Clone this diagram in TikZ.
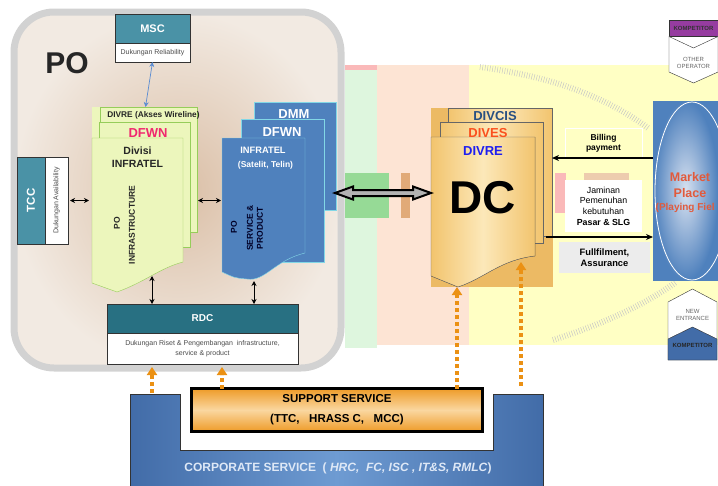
\documentclass[tikz,border=0pt]{standalone}
\usepackage{fontspec}
\setmainfont{Liberation Sans}
\usetikzlibrary{arrows.meta, positioning, calc}

\definecolor{tealbox}{RGB}{74,146,166}
\definecolor{tealdark}{RGB}{40,112,130}
\definecolor{infragreen}{RGB}{236,246,188}
\definecolor{infraedge}{RGB}{150,205,90}
\definecolor{svcblue}{RGB}{79,129,189}
\definecolor{svcedge}{RGB}{130,215,230}
\definecolor{dcorange}{RGB}{242,196,110}
\definecolor{dclight}{RGB}{252,232,185}
\definecolor{dcback}{RGB}{236,186,100}
\definecolor{mktred}{RGB}{225,90,60}
\definecolor{mktlight}{RGB}{215,225,240}
\definecolor{suporange}{RGB}{238,155,40}
\definecolor{suplight}{RGB}{250,215,160}
\definecolor{dotorange}{RGB}{235,145,20}
\definecolor{corpblue}{RGB}{66,108,168}
\definecolor{corplight}{RGB}{110,155,210}
\definecolor{corptext}{RGB}{222,232,246}
\definecolor{kompurple}{RGB}{150,60,160}
\definecolor{poback}{RGB}{242,234,226}
\definecolor{pocore}{RGB}{218,190,165}
\definecolor{bandpeach}{RGB}{253,228,212}
\definecolor{bandgreen}{RGB}{222,246,222}
\definecolor{bandpink}{RGB}{250,185,185}
\definecolor{bandyellow}{RGB}{255,255,196}
\definecolor{greenblock}{RGB}{150,218,150}
\definecolor{brownblock}{RGB}{225,170,120}
\definecolor{arrowblue}{RGB}{90,140,210}
\definecolor{divcisblue}{RGB}{40,80,130}
\definecolor{divesred}{RGB}{250,80,30}
\definecolor{divreblue}{RGB}{30,30,240}
\definecolor{dfwnpink}{RGB}{240,40,110}

\begin{document}
\begin{tikzpicture}[
    x=1pt, y=-1pt,
    box/.style={draw, inner sep=0pt, outer sep=0pt},
    head/.style={box, draw=black!80, fill=tealbox, text=white, font=\fontsize{11}{12}\selectfont\bfseries},
    sub/.style={box, draw=black!80, fill=white, text=black!70, font=\fontsize{7}{10}\selectfont, align=center},
    greenpage/.style={box, draw=infraedge, fill=infragreen},
    bluepage/.style={box, draw=svcedge, fill=svcblue},
    orangepage/.style={box, draw=black!60, left color=dcorange, right color=dcorange, middle color=dclight},
    lbl/.style={inner sep=0pt, align=center, font=\fontsize{8.5}{10}\selectfont\bfseries},
    darr/.style={{Stealth[length=5pt,width=5pt]}-{Stealth[length=5pt,width=5pt]}, line width=0.9pt},
    arr/.style={-{Stealth[length=7pt,width=6pt]}, line width=1.5pt},
    oarr/.style={-{Triangle[length=8pt,width=10pt]}, dotorange, line width=3.5pt, dash pattern=on 4pt off 3pt},
    hatch/.style={gray!45, line width=6pt, dash pattern=on 0.5pt off 2pt}
]
    \useasboundingbox (0,0) rectangle (718,485);

    % Background bands
    \fill[bandpeach] (345,65) rectangle (469,345);
    \fill[bandgreen] (345,70) rectangle (377,348);
    \fill[bandpink] (345,65) rectangle (377,70);
    \fill[bandyellow] (469,65) rectangle (718,345);
    \fill[greenblock] (345,173) rectangle (389,218);
    \fill[brownblock] (401,173) rectangle (410,218);
    \fill[bandpink] (555,173) rectangle (566,213);
    \fill[brownblock!60] (584,173) rectangle (629,213);
    \draw[hatch] (480,67) .. controls (560,78) and (610,100) .. (648,128);
    \draw[hatch] (553,340) .. controls (600,325) and (645,305) .. (676,282);

    % PO
    \node[draw=gray!35, line width=7pt, rounded corners=40pt, inner color=pocore, outer color=poback,
          minimum width=327, minimum height=356, outer sep=0pt] (pobox) at (177.5,190) {};
    \node[inner sep=0pt, font=\fontsize{30}{30}\selectfont\bfseries, text=black!85] (potitle) at (67,63) {PO};

    % MSC
    \node[head, minimum width=75, minimum height=29] (msc) at (152.5,28.5) {MSC};
    \node[sub, minimum width=75, minimum height=19, below=0pt of msc] (mscsub) {Dukungan Reliability};

    % TCC
    \node[head, minimum width=87, minimum height=28, rotate=90, font=\fontsize{11.5}{12}\selectfont\bfseries] (tcc) at (31,200.5) {TCC};
    \node[sub, minimum width=87, minimum height=23, rotate=90] (tccsub) at (56.5,200.5) {Dukungan Availability};

    % PO infrastructure
    \fill[infragreen] (92,107) rectangle (100,138);
    \node[greenpage, minimum width=97, minimum height=125] (divre) at (148.5,169.5) {};
    \node[greenpage, minimum width=91, minimum height=125] (dfwn) at (144.5,184.5) {};
    \filldraw[draw=infraedge, fill=infragreen] (92,138) -- (183,138) -- (183,262)
        .. controls (160,268) and (145,282) .. (117,292) -- (92,283) -- cycle;
    \node[inner sep=0pt, outer sep=0pt, minimum width=91, minimum height=145] (infra) at (137.5,210.5) {};
    \node[lbl, font=\fontsize{8.3}{10}\selectfont\bfseries, text=black!85] (divrelbl) at (153.5,115) {DIVRE (Akses Wireline)};
    \node[lbl, font=\fontsize{13}{14}\selectfont\bfseries, text=dfwnpink] (dfwnlbl) at (148,133) {DFWN};
    \node[lbl, font=\fontsize{10.5}{13}\selectfont\bfseries, text=black!85] (infralbl) at (137.5,157) {Divisi\\INFRATEL};
    \node[lbl, rotate=90, text=black!85] (infrapo) at (117,223) {PO};
    \node[lbl, rotate=90, text=black!85] (infratxt) at (132,225) {INFRASTRUCTURE};

    % PO service & product
    \node[bluepage, minimum width=82, minimum height=108] (dmm) at (295,156) {};
    \node[bluepage, minimum width=83, minimum height=143] (dfwnb) at (282.5,190.5) {};
    \filldraw[draw=svcedge, fill=svcblue] (222,138) -- (305,138) -- (305,253)
        .. controls (275,260) and (265,282) .. (247,279) .. controls (235,278) .. (222,272) -- cycle;
    \node[inner sep=0pt, outer sep=0pt, minimum width=83, minimum height=141] (svc) at (263.5,208.5) {};
    \node[lbl, font=\fontsize{13}{14}\selectfont\bfseries, text=white] (dmmlbl) at (294,114) {DMM};
    \node[lbl, font=\fontsize{13}{14}\selectfont\bfseries, text=white] (dfwnblbl) at (282,132) {DFWN};
    \node[lbl, font=\fontsize{9.3}{11}\selectfont\bfseries, text=white] (svclbl) at (263,150) {INFRATEL};
    \node[lbl, font=\fontsize{8.5}{10}\selectfont\bfseries, text=white] (svcsub) at (265.5,165) {(Satelit, Telin)};
    \node[lbl, rotate=90, text=black!85!blue] (svcpo) at (234,227) {PO};
    \node[lbl, rotate=90, text=black!85!blue] (svctxt) at (255,228) {SERVICE \&\\PRODUCT};

    % RDC
    \node[head, fill=tealdark, minimum width=191, minimum height=29, font=\fontsize{10}{12}\selectfont\bfseries] (rdc) at (202.5,318.5) {RDC};
    \node[sub, minimum width=191, minimum height=31, below=0pt of rdc] (rdcsub) {Dukungan Riset \& Pengembangan~ infrastructure,\\service \& product};

    \draw[darr, draw=arrowblue, line width=0.7pt] (mscsub.south) -- ($(mscsub.south |- divre.north)+(-7,0)$);
    \draw[darr, shorten <=2pt, shorten >=3pt] (tccsub.south |- tcc.center) -- (infra.west |- tcc.center);
    \draw[darr, shorten <=1pt, shorten >=1pt] (divre.east |- tcc.center) -- (svc.west |- tcc.center);
    \coordinate (infb) at (152,276);
    \coordinate (svcb) at (254,281);
    \draw[darr] (infb) -- (infb |- rdc.north);
    \draw[darr] (svcb) -- (svcb |- rdc.north);

    % DC
    \node[box, draw=none, fill=dcback, minimum width=122, minimum height=179] (dcbox) at (492,197.5) {};
    \node[orangepage, minimum width=104, minimum height=128] (divcis) at (500,172) {};
    \node[orangepage, minimum width=103, minimum height=121] (dives) at (491.5,182.5) {};
    \filldraw[draw=black!60, left color=dcorange, right color=dcorange, middle color=dclight] (431,137) -- (535,137) -- (535,256)
        .. controls (500,260) and (485,278) .. (458,287) -- (431,276) -- cycle;
    \node[inner sep=0pt, outer sep=0pt, minimum width=104, minimum height=150] (dc) at (483,212) {};
    \node[lbl, font=\fontsize{13}{14}\selectfont\bfseries, text=divcisblue] (divcislbl) at (495,116) {DIVCIS};
    \node[lbl, font=\fontsize{13}{14}\selectfont\bfseries, text=divesred] (diveslbl) at (488,133) {DIVES};
    \node[lbl, font=\fontsize{13}{14}\selectfont\bfseries, text=divreblue] (dcdivre) at (483,151) {DIVRE};
    \node[lbl, font=\fontsize{46}{46}\selectfont\bfseries] (dclbl) at (483,198) {DC};

    % PO <-> DC
    \coordinate (bigL) at (335,193);
    \coordinate (bigR) at (dc.west |- bigL);
    \filldraw[draw=black, line width=2pt, fill=gray!60] (bigL) -- ++(18,-6.5) -- ++(0,3.5) -- ($(bigR)+(-18,-3)$)
        -- ++(0,-3.5) -- (bigR) -- ++(-18,6.5) -- ++(0,-3.5) -- ($(bigL)+(18,3)$) -- ++(0,3.5) -- cycle;

    % Market
    \node[box, draw=none, inner color=mktlight, outer color=svcblue, minimum width=65, minimum height=179] (market) at (685.5,190.5) {};
    \draw[white, line width=0.8pt] (692,191) ellipse (37 and 89);
    \node[lbl, font=\fontsize{12.5}{14}\selectfont\bfseries, text=mktred] (mkt1) at (690,177) {Market};
    \node[lbl, font=\fontsize{12.5}{14}\selectfont\bfseries, text=mktred] (mkt2) at (690,193) {Place};
    \node[lbl, font=\fontsize{10}{12}\selectfont\bfseries, text=mktred, anchor=west] (mkt3) at (655.5,208) {(Playing Fiel};

    \node[box, draw=white, minimum width=77, minimum height=30, font=\fontsize{8.5}{10}\selectfont\bfseries, align=center] (billing) at (603.5,143) {Billing\\payment};
    \node[box, draw=none, fill=white, minimum width=77, minimum height=52, font=\fontsize{8.8}{10.7}\selectfont, align=center] (jaminan) at (603.5,206) {Jaminan\\Pemenuhan\\kebutuhan\\\textbf{Pasar \& SLG}};
    \node[box, draw=none, fill=gray!15, minimum width=91, minimum height=31, font=\fontsize{9.3}{11}\selectfont\bfseries, align=center] (fulfil) at (604.5,257.5) {Fullfilment,\\Assurance};
    \coordinate (ffin) at ([yshift=5pt]fulfil.north);
    \draw[arr] (market.west |- billing.south) -- (divcis.east |- billing.south);
    \draw[arr, shorten <=3pt] (dives.east |- ffin) -- (market.west |- ffin);

    % Kompetitor
    \node[box, draw=black!80, fill=kompurple, minimum width=49, minimum height=16, font=\fontsize{6}{7}\selectfont\bfseries, text=black!80] (komp1) at (693.5,28.5) {KOMPETITOR};
    \filldraw[draw=black!80, fill=white] (669,36.5) -- (693.5,48) -- (718,36.5) -- (718,72) -- (693.5,83) -- (669,72) -- cycle;
    \node[inner sep=0pt, font=\fontsize{6}{7.5}\selectfont, text=black!60, align=center] (other) at (693.5,63) {OTHER\\OPERATOR};
    \filldraw[draw=black!80, fill=white] (668,302) -- (692.5,289) -- (717,302) -- (717,360) -- (668,360) -- cycle;
    \filldraw[draw=black!80, fill=corpblue] (668,339) -- (692.5,327) -- (717,339) -- (717,360) -- (668,360) -- cycle;
    \node[inner sep=0pt, font=\fontsize{6}{7.5}\selectfont, text=black!60, align=center] (newent) at (692.5,315) {NEW\\ENTRANCE};
    \node[inner sep=0pt, font=\fontsize{6}{7}\selectfont\bfseries, text=black!85] (komp2) at (692.5,345) {KOMPETITOR};

    % Corporate & support
    \filldraw[draw=black!80, left color=corpblue, right color=corpblue, middle color=corplight] (130,394) -- (180,394) -- (180,450)
        -- (493,450) -- (493,394) -- (543,394) -- (543,490) -- (130,490) -- cycle;
    \node[inner sep=0pt, font=\fontsize{12}{14}\selectfont\bfseries, text=corptext] (corp) at (338,468)
        {CORPORATE SERVICE~~( \textit{HRC,~~FC, ISC , IT\&S, RMLC})};
    \node[box, draw=black, line width=3pt, top color=suporange, bottom color=suporange, middle color=suplight,
          minimum width=291, minimum height=43, font=\fontsize{11.5}{13}\selectfont\bfseries, align=center] (support) at (337,410)
        {SUPPORT SERVICE\\[7pt](TTC,~~~HRASS C,~~~MCC)};

    \coordinate (corpL) at (152,393);
    \coordinate (corpR) at (521,386);
    \draw[oarr, shorten >=3pt] (corpL) -- (corpL |- rdcsub.south);
    \draw[oarr, shorten >=3pt] ([xshift=-115pt]support.north) -- ([xshift=-115pt]support.north |- rdcsub.south);
    \draw[oarr] ([xshift=120pt]support.north) -- ([xshift=120pt]support.north |- dc.south);
    \draw[oarr] (corpR) -- ($(corpR |- dc.south)+(0,-25)$);
\end{tikzpicture}
\end{document}
